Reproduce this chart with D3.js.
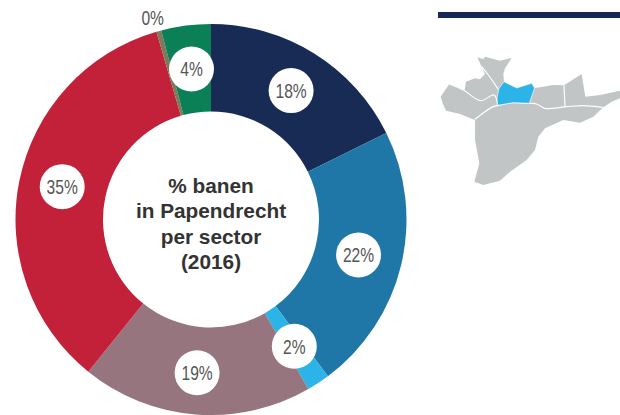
<!DOCTYPE html>
<html>
<head>
<meta charset="utf-8">
<script src="https://cdn.jsdelivr.net/npm/d3@7"></script>
<style>
  html, body { margin: 0; padding: 0; background: #fff; }
  svg { display: block; }
</style>
</head>
<body>
<script>
// donut values
var values = [17.7, 22.1, 1.9, 19.1, 34.7, 0.4, 4.1];
var labels = ['18%', '22%', '2%', '19%', '35%', '0%', '4%'];
var colors = ['#172b54', '#1f77a8', '#2cb4e8', '#96757f', '#c32039', '#7d7a5c', '#0b7f55'];
var title = ['% banen', 'in Papendrecht', 'per sector', '(2016)'];

// map outlines at 3x
var mapOutline = [[142,172],[160,178],[165,170],[210,182],[245,174],[238,185],[225,205],[220,222],[222,245],[260,264],[305,250],[314,264],[330,262],[370,255],[402,256],[455,222],[466,290],[510,285],[570,272],[570,295],[545,305],[520,322],[490,350],[450,368],[400,360],[345,385],[325,410],[315,450],[290,480],[240,515],[210,542],[160,555],[133,545],[148,490],[135,420],[135,360],[90,342],[48,332],[38,310],[32,290],[58,252],[104,270],[108,245],[135,235],[150,238],[165,222],[155,200]];
var mapHighlight = [[222,245],[260,264],[305,250],[314,264],[298,310],[250,308],[203,316],[201,295],[207,265]];
var mapBorders = [
  [[135,358],[165,335],[190,320],[205,316],[250,308],[300,310],[320,312],[345,325],[410,320],[460,317],[518,322]],
  [[58,252],[100,270],[152,302],[192,285],[203,315]],
  [[155,200],[175,225],[205,268]],
  [[402,256],[405,318]]
];

var width = 620, height = 415;
var cx = 211, cy = 219.5, outer = 195.5, inner = 108;

var svg = d3.select('body').append('svg')
  .attr('width', width)
  .attr('height', height);

// donut
var pie = d3.pie().value(function(d) { return d; }).sort(null);
var arc = d3.arc().innerRadius(inner).outerRadius(outer);
var arcs = pie(values);

var g = svg.append('g').attr('transform', 'translate(' + cx + ',' + cy + ')');

g.selectAll('path')
  .data(arcs)
  .enter().append('path')
  .attr('d', arc)
  .attr('fill', function(d, i) { return colors[i]; });

// white bubbles with labels, the 0% one sits outside the ring
function bubblePos(d, i) {
  if (labels[i] === '0%') {
    var a = (d.startAngle + d.endAngle) / 2 - 0.012;
    return [Math.sin(a) * (outer + 14), -Math.cos(a) * (outer + 14)];
  }
  var c = arc.centroid(d);
  if (labels[i] === '35%') c[1] -= 3;
  if (labels[i] === '19%') { c[0] -= 2; c[1] += 2; }
  return c;
}

var bubbles = g.selectAll('g.bubble')
  .data(arcs)
  .enter().append('g')
  .attr('class', 'bubble')
  .attr('transform', function(d, i) { return 'translate(' + bubblePos(d, i) + ')'; });

bubbles.filter(function(d, i) { return labels[i] !== '0%'; })
  .append('circle')
  .attr('r', 22.5)
  .attr('fill', '#fff');

// no narrow face installed, so squeeze Liberation Sans
bubbles.append('text')
  .attr('text-anchor', 'middle')
  .attr('dy', '0.36em')
  .attr('transform', 'scale(0.78,1)')
  .attr('font-family', '"Liberation Sans", sans-serif')
  .attr('font-size', 20)
  .attr('fill', '#555')
  .text(function(d, i) { return labels[i]; });

// centre title
g.selectAll('text.title')
  .data(title)
  .enter().append('text')
  .attr('class', 'title')
  .attr('text-anchor', 'middle')
  .attr('y', function(d, i) { return -26.5 + i * 25.4; })
  .attr('font-family', '"Liberation Sans", Arial, sans-serif')
  .attr('font-weight', 'bold')
  .attr('font-size', 20.8)
  .attr('fill', '#333')
  .text(function(d) { return d; });

// top right rule
svg.append('rect')
  .attr('x', 438).attr('y', 12)
  .attr('width', 182).attr('height', 6)
  .attr('fill', '#172b54');

// map
var mapG = svg.append('g').attr('transform', 'translate(430,0) scale(0.3333)');
var closedLine = d3.line().curve(d3.curveLinearClosed);
var openLine = d3.line().curve(d3.curveCatmullRom);

mapG.append('path')
  .attr('d', closedLine(mapOutline))
  .attr('fill', '#c2c5c6');

mapG.selectAll('path.border')
  .data(mapBorders)
  .enter().append('path')
  .attr('class', 'border')
  .attr('d', function(d) { return openLine(d); })
  .attr('fill', 'none')
  .attr('stroke', '#fff')
  .attr('stroke-width', 3.5);

mapG.append('path')
  .attr('d', closedLine(mapHighlight))
  .attr('fill', '#2cb4e8')
  .attr('stroke', '#fff')
  .attr('stroke-width', 2);
</script>
</body>
</html>
